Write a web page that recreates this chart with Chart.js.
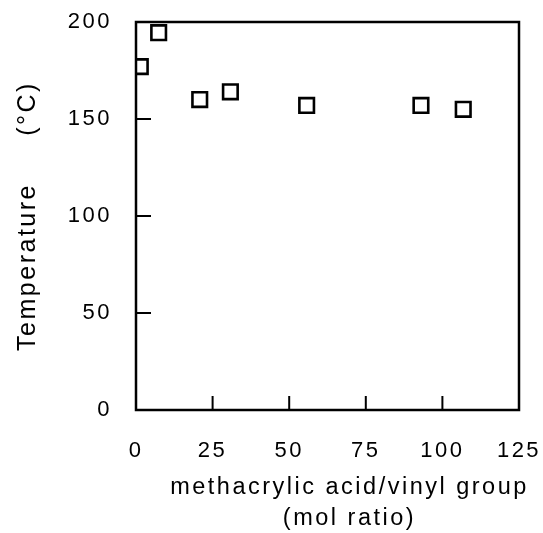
<!DOCTYPE html>
<html>
<head>
<meta charset="utf-8">
<script src="https://cdn.jsdelivr.net/npm/chart.js@4.4.1/dist/chart.umd.min.js"></script>
<style>
  html, body { margin: 0; padding: 0; background: #fff; }
  #wrap { width: 543px; height: 533px; }
</style>
</head>
<body>
<div id="wrap"><canvas id="myChart" width="543" height="533"></canvas></div>
<script>
// values
const ratio = [1.4, 7.4, 20.8, 30.8, 55.7, 93.0, 106.8];
const temperature = [177, 194.5, 160, 164, 157, 157, 155];
const xTickValues = [0, 25, 50, 75, 100, 125];
const yTickValues = [0, 50, 100, 150, 200];
const xTitleLines = ['methacrylic acid/vinyl group', '(mol ratio)'];
const yTitle = 'Temperature     (\u00B0C)';

const FONT = '"Liberation Sans", Arial, Helvetica, sans-serif';

// frame, inward tick marks, x title drawn on top of the chart
const framePlugin = {
    id: 'frame',
    beforeDraw(chart) {
        chart.ctx.letterSpacing = '2.5px';
    },
    afterDraw(chart) {
        const ctx = chart.ctx;
        const a = chart.chartArea;
        const xs = chart.scales.x;
        const ys = chart.scales.y;
        ctx.save();
        ctx.strokeStyle = '#000';
        ctx.lineWidth = 2.5;
        ctx.strokeRect(a.left, a.top, a.right - a.left, a.bottom - a.top);
        ctx.lineWidth = 2;
        ctx.beginPath();
        xTickValues.slice(1, -1).forEach(v => {
            const px = xs.getPixelForValue(v);
            ctx.moveTo(px, a.bottom);
            ctx.lineTo(px, a.bottom - 14);
        });
        yTickValues.slice(1, -1).forEach(v => {
            const py = ys.getPixelForValue(v);
            ctx.moveTo(a.left, py);
            ctx.lineTo(a.left + 15, py);
        });
        ctx.stroke();

        ctx.fillStyle = '#000';
        ctx.font = '23.5px ' + FONT;
        ctx.letterSpacing = '2.5px';
        ctx.textAlign = 'center';
        ctx.textBaseline = 'alphabetic';
        const cx = (a.left + a.right) / 2 + 22;
        ctx.fillText(xTitleLines[0], cx, 494);
        ctx.fillText(xTitleLines[1], cx, 525);
        ctx.restore();
    }
};

const data = {
    datasets: [{
        label: 'Temperature',
        data: ratio.map((x, i) => ({ x: x, y: temperature[i] })),
        pointStyle: 'rect',
        pointRadius: 10.3,
        pointBorderWidth: 2.6,
        pointBackgroundColor: 'rgba(255,255,255,0)',
        pointBorderColor: '#000',
        showLine: false
    }]
};

const config = {
    type: 'scatter',
    data: data,
    options: {
        responsive: false,
        animation: false,
        layout: { padding: { top: 22, right: 24, left: 0, bottom: 0 } },
        plugins: {
            legend: { display: false },
            tooltip: { enabled: false }
        },
        scales: {
            x: {
                type: 'linear',
                min: 0,
                max: 125,
                afterBuildTicks: s => { s.ticks = xTickValues.map(v => ({ value: v })); },
                afterFit: s => { s.height = 123; s.paddingLeft = 0; s.paddingRight = 0; },
                grid: { display: false, drawTicks: false },
                border: { display: false },
                ticks: {
                    padding: 28,
                    color: '#000',
                    font: { family: FONT, size: 22 }
                }
            },
            y: {
                type: 'linear',
                min: 0,
                max: 200,
                afterBuildTicks: s => { s.ticks = yTickValues.map(v => ({ value: v })); },
                afterFit: s => { s.width = 136; s.paddingTop = 0; s.paddingBottom = 0; },
                grid: { display: false, drawTicks: false },
                border: { display: false },
                ticks: {
                    padding: 24,
                    color: '#000',
                    font: { family: FONT, size: 22 }
                },
                title: {
                    display: true,
                    text: yTitle,
                    color: '#000',
                    font: { family: FONT, size: 25 },
                    padding: { top: 13, bottom: 0 }
                }
            }
        }
    },
    plugins: [framePlugin]
};

const myChart = new Chart(document.getElementById('myChart').getContext('2d'), config);
</script>
</body>
</html>
